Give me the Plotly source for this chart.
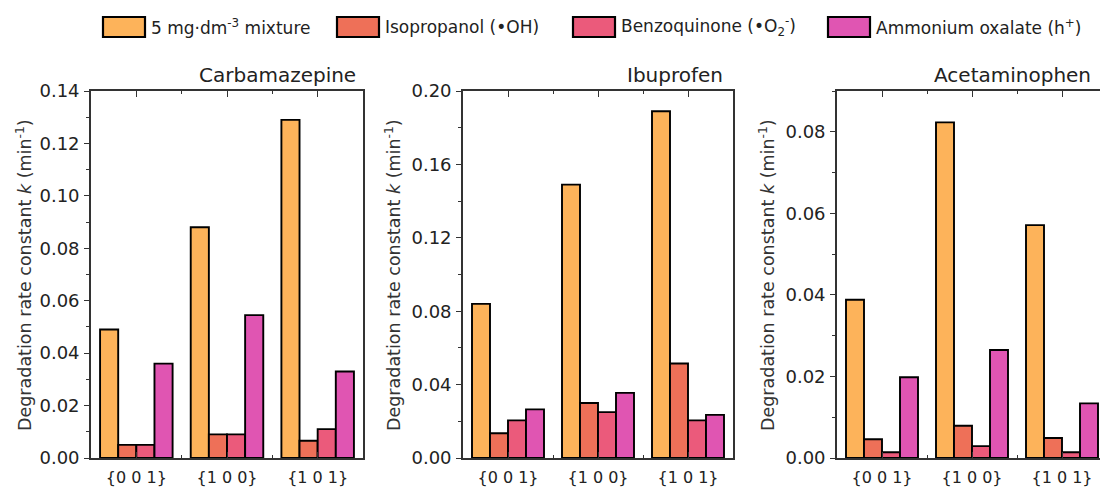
import plotly.graph_objects as go

categories = ["{0 0 1}", "{1 0 0}", "{1 0 1}"]
series_names = ["5 mg·dm<sup>-3</sup> mixture", "Isopropanol (•OH)",
                "Benzoquinone (•O<sub>2</sub><sup>-</sup>)", "Ammonium oxalate (h<sup>+</sup>)"]
colors = ["#FDB35A", "#EE7058", "#EB5A7B", "#E055B2"]

panel_titles = ["Carbamazepine", "Ibuprofen", "Acetaminophen"]

cbz_mixture = [0.049, 0.088, 0.129]
cbz_ipa = [0.005, 0.009, 0.0066]
cbz_bq = [0.005, 0.009, 0.011]
cbz_ao = [0.036, 0.0545, 0.033]

ibu_mixture = [0.084, 0.149, 0.189]
ibu_ipa = [0.0135, 0.030, 0.0515]
ibu_bq = [0.0205, 0.025, 0.0205]
ibu_ao = [0.0265, 0.0355, 0.0235]

ace_mixture = [0.0388, 0.0823, 0.0571]
ace_ipa = [0.0046, 0.0079, 0.0049]
ace_bq = [0.0014, 0.0029, 0.0014]
ace_ao = [0.0198, 0.0265, 0.0134]

y_max = [0.14, 0.20, 0.09]
y_dtick = [0.02, 0.04, 0.02]

panels = [
    [cbz_mixture, cbz_ipa, cbz_bq, cbz_ao],
    [ibu_mixture, ibu_ipa, ibu_bq, ibu_ao],
    [ace_mixture, ace_ipa, ace_bq, ace_ao],
]

W, H = 1100, 491
FONT = "DejaVu Sans"
x_idx = list(range(len(categories)))

fig = go.Figure()
for p, series in enumerate(panels):
    xa = "x" if p == 0 else f"x{p+1}"
    ya = "y" if p == 0 else f"y{p+1}"
    for s, vals in enumerate(series):
        fig.add_trace(go.Bar(
            x=x_idx, y=vals, xaxis=xa, yaxis=ya,
            marker=dict(color=colors[s], line=dict(color="black", width=1.9)),
            name=series_names[s], showlegend=False,
        ))

# plot-area pixel boxes
x_dom_px = [(91, 363), (463, 733), (837, 1100)]
cat_w = [(363 - 91) / 3, (733 - 463) / 3, 90.0]
y_top_px, y_bot_px = 91, 458

layout = dict(
    template="none",
    width=W, height=H, margin=dict(l=0, r=0, t=0, b=0, pad=0, autoexpand=False),
    paper_bgcolor="white", plot_bgcolor="white",
    barmode="group", bargap=0.2, bargroupgap=0,
    font=dict(family=FONT, size=16, color="#222"),
)
annotations = []
shapes = []
for p in range(3):
    xk = "xaxis" if p == 0 else f"xaxis{p+1}"
    yk = "yaxis" if p == 0 else f"yaxis{p+1}"
    xa = "x" if p == 0 else f"x{p+1}"
    ya = "y" if p == 0 else f"y{p+1}"
    x0, x1 = x_dom_px[p]
    xr_end = -0.5 + (x1 - x0) / cat_w[p]
    layout[xk] = dict(
        domain=[x0 / W, x1 / W], anchor=ya, range=[-0.5, xr_end],
        tickmode="array", tickvals=x_idx, ticktext=categories,
        ticks="inside", ticklen=6, tickwidth=1.3, tickcolor="#333",
        showline=True, linecolor="#333", linewidth=1.5, mirror="ticks",
        showgrid=False, zeroline=False, fixedrange=True, automargin=False,
        tickfont=dict(family=FONT, size=16, color="#222"),
        ticklabelstandoff=4,
        minor=dict(tickmode="array", tickvals=[0.5, 1.5], ticks="inside",
                   ticklen=3, tickwidth=1.3, tickcolor="#333", showgrid=False),
    )
    layout[yk] = dict(
        domain=[1 - y_bot_px / H, 1 - y_top_px / H], anchor=xa,
        range=[0, y_max[p]], tickmode="linear", tick0=0, dtick=y_dtick[p],
        tickformat=".2f", ticks="outside", ticklen=5, tickwidth=1.3, tickcolor="#333",
        showline=True, linecolor="#333", linewidth=1.7, mirror=(p < 2),
        showgrid=False, zeroline=False, fixedrange=True, automargin=False,
        tickfont=dict(family=FONT, size=18, color="#222"),
        ticklabelstandoff=1,
        minor=dict(dtick=y_dtick[p] / 2, ticks="outside", ticklen=3,
                   tickwidth=1.2, tickcolor="#333", showgrid=False),
    )
    # panel title
    title_right = [358, 725, 1093][p]
    annotations.append(dict(
        text=panel_titles[p], xref="paper", yref="paper",
        x=title_right / W, y=1 - 75 / H, xanchor="right", yanchor="middle",
        showarrow=False, font=dict(family=FONT, size=20, color="#222"),
    ))
    # y axis title
    ytitle_x = [24, 393, 767][p]
    annotations.append(dict(
        text="Degradation rate constant <i>k</i> (min<sup>-1</sup>)",
        xref="paper", yref="paper", x=ytitle_x / W, y=1 - 275 / H,
        xanchor="center", yanchor="middle", textangle=-90, showarrow=False,
        font=dict(family=FONT, size=17.5, color="#333"),
    ))

# manual legend
leg_box_x = [103, 337, 573, 828]
for i, name in enumerate(series_names):
    bx = leg_box_x[i]
    shapes.append(dict(
        type="rect", xref="paper", yref="paper",
        x0=bx / W, x1=(bx + 42) / W, y0=1 - 37 / H, y1=1 - 17 / H,
        fillcolor=colors[i], line=dict(color="black", width=2.2),
    ))
    annotations.append(dict(
        text=name, xref="paper", yref="paper", x=(bx + 46) / W, y=1 - 27 / H,
        xanchor="left", yanchor="middle", showarrow=False,
        font=dict(family=FONT, size=17, color="#222"),
    ))

layout["annotations"] = annotations
layout["shapes"] = shapes
fig.update_layout(**layout)
fig.write_html(
    "out.html",
    config={"displayModeBar": False},
    post_script="document.body.style.margin='0';document.body.style.padding='0';document.body.style.overflow='hidden';",
)
